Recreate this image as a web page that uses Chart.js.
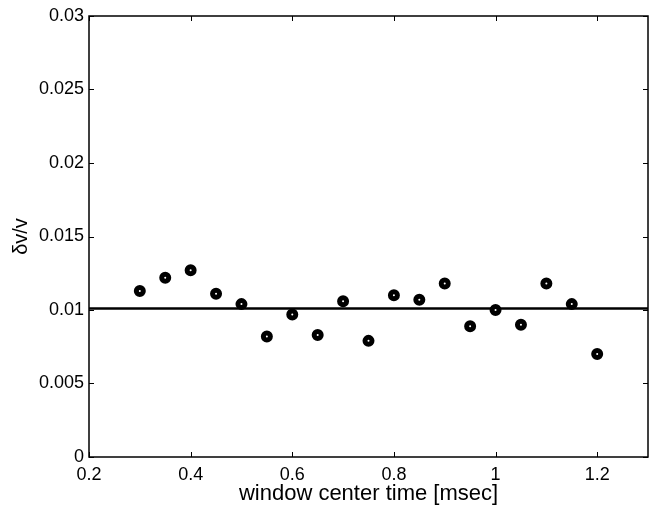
<!DOCTYPE html>
<html>
<head>
<meta charset="utf-8">
<script src="https://cdn.jsdelivr.net/npm/chart.js@4"></script>
<style>
    html, body {margin: 0; padding: 0; background: #fff;}
    #box {width: 650px; height: 510px;}
</style>
</head>
<body>
<div id="box"><canvas id="appChart"></canvas></div>
<script>
// DATA
const windowTimes = [0.3, 0.35, 0.4, 0.45, 0.5, 0.55, 0.6, 0.65, 0.7, 0.75,
    0.8, 0.85, 0.9, 0.95, 1.0, 1.05, 1.1, 1.15, 1.2];
const dvv = [0.0113, 0.0122, 0.0127, 0.0111, 0.0104, 0.0082, 0.0097, 0.0083, 0.0106, 0.0079,
    0.0110, 0.0107, 0.0118, 0.0089, 0.0100, 0.0090, 0.0118, 0.0104, 0.0070];
const meanLevel = 0.0101;
const xRange = [0.2, 1.3];
const yRange = [0, 0.03];
const xTicks = [0.2, 0.4, 0.6, 0.8, 1.0, 1.2];
const xTickLabels = ['0.2', '0.4', '0.6', '0.8', '1', '1.2'];
const yTicks = [0, 0.005, 0.01, 0.015, 0.02, 0.025, 0.03];
const yTickLabels = ['0', '0.005', '0.01', '0.015', '0.02', '0.025', '0.03'];

// WORKING VARS
const FONT = 'Liberation Sans, Arial, Helvetica, sans-serif';
const TICK_LEN = 5;

// frame on all four sides with inward ticks (matlab style)
const framePlugin = {
    id: 'frame',
    afterDraw(chart) {
        const {ctx, chartArea: a, scales: {x, y}} = chart;
        ctx.save();
        ctx.strokeStyle = '#000';
        ctx.lineWidth = 1.5;
        ctx.strokeRect(a.left, a.top, a.right - a.left, a.bottom - a.top);
        ctx.lineWidth = 1;
        ctx.beginPath();
        for (const v of xTicks) {
            const px = Math.round(x.getPixelForValue(v)) + 0.5;
            ctx.moveTo(px, a.bottom); ctx.lineTo(px, a.bottom - TICK_LEN);
            ctx.moveTo(px, a.top); ctx.lineTo(px, a.top + TICK_LEN);
        }
        for (const v of yTicks) {
            const py = Math.round(y.getPixelForValue(v)) + 0.5;
            ctx.moveTo(a.left, py); ctx.lineTo(a.left + TICK_LEN, py);
            ctx.moveTo(a.right, py); ctx.lineTo(a.right - TICK_LEN, py);
        }
        ctx.stroke();
        ctx.restore();
    }
};

const datasets = [
    {
        type: 'scatter',
        data: windowTimes.map((t, i) => ({x: t, y: dvv[i]})),
        pointRadius: 3.5,
        pointBorderWidth: 5,
        pointBorderColor: '#000',
        pointBackgroundColor: '#fff',
        pointHoverRadius: 3.5,
        order: 1,
    },
    {
        type: 'line',
        data: xRange.map((t) => ({x: t, y: meanLevel})),
        borderColor: '#000',
        borderWidth: 2.5,
        pointRadius: 0,
        fill: false,
        order: 2,
    },
];

const options = {
    responsive: false,
    animation: false,
    layout: {autoPadding: false, padding: {top: 16, right: 2, left: 0, bottom: 0}},
    plugins: {legend: {display: false}, tooltip: {enabled: false}},
    scales: {
        x: {
            type: 'linear',
            min: xRange[0],
            max: xRange[1],
            grid: {display: false, drawTicks: false},
            border: {display: false},
            afterBuildTicks: (s) => { s.ticks = xTicks.map((v) => ({value: v})); },
            afterFit: (s) => {
                s.height = 53;
                s.paddingLeft = 0;
                s.paddingRight = 0;
            },
            ticks: {
                color: '#000',
                padding: 7,
                maxRotation: 0,
                font: {family: FONT, size: 18},
                callback: (v) => xTickLabels[xTicks.findIndex((t) => Math.abs(t - v) < 1e-9)],
            },
            title: {
                display: true,
                text: 'window center time [msec]',
                color: '#000',
                padding: {top: 0, bottom: 3},
                font: {family: FONT, size: 22},
            },
        },
        y: {
            type: 'linear',
            min: yRange[0],
            max: yRange[1],
            grid: {display: false, drawTicks: false},
            border: {display: false},
            afterBuildTicks: (s) => { s.ticks = yTicks.map((v) => ({value: v})); },
            afterFit: (s) => {
                s.width = 89;
                s.paddingTop = 0;
                s.paddingBottom = 0;
            },
            ticks: {
                color: '#000',
                padding: 5,
                font: {family: FONT, size: 18},
                callback: (v) => yTickLabels[yTicks.findIndex((t) => Math.abs(t - v) < 1e-9)],
            },
            title: {
                display: true,
                text: 'δv/v',
                color: '#000',
                padding: {top: 9, bottom: 0},
                font: {family: FONT, size: 20},
            },
        },
    },
};

// place chart to display
const ctx = document.getElementById('appChart');
ctx.width = 650;
ctx.height = 510;
new Chart(ctx, {data: {datasets}, options, plugins: [framePlugin]});
</script>
</body>
</html>
